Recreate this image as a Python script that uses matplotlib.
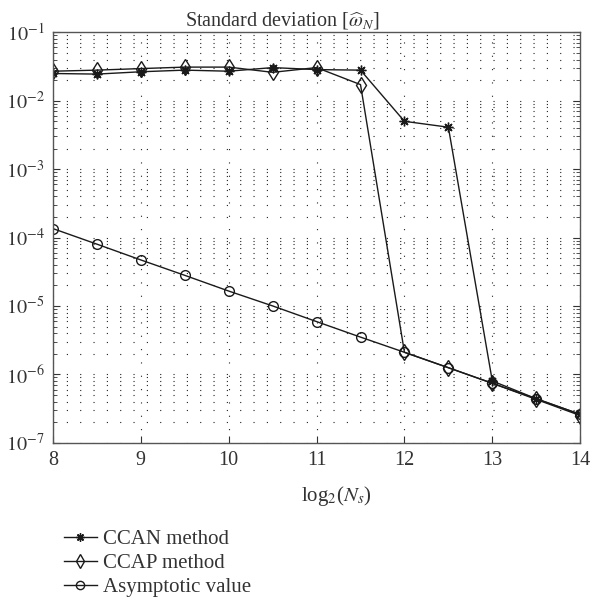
import numpy as np
import matplotlib
matplotlib.use("Agg")
import matplotlib.pyplot as plt

plt.rcParams['font.family'] = ['Liberation Serif', 'DejaVu Serif']
plt.rcParams['mathtext.fontset'] = 'stix'

# data
x_vals = [8, 8.5, 9, 9.5, 10, 10.5, 11, 11.5, 12, 12.5, 13, 13.5, 14]
ccan = [2.5e-2, 2.45e-2, 2.65e-2, 2.8e-2, 2.7e-2, 3.05e-2, 2.85e-2, 2.8e-2,
        5.0e-3, 4.1e-3, 8.0e-7, 4.4e-7, 2.6e-7]
ccap = [2.7e-2, 2.8e-2, 2.95e-2, 3.1e-2, 3.1e-2, 2.6e-2, 3.05e-2, 1.72e-2,
        2.1e-6, 1.25e-6, 7.4e-7, 4.3e-7, 2.5e-7]
asym = [1.35e-4, 8.0e-5, 4.7e-5, 2.8e-5, 1.65e-5, 1.0e-5, 5.9e-6, 3.5e-6,
        2.1e-6, 1.25e-6, 7.4e-7, 4.4e-7, 2.6e-7]
x_ticks = [8, 9, 10, 11, 12, 13, 14]
labels = ['CCAN method', 'CCAP method', 'Asymptotic value']

fig = plt.figure(figsize=(5.92, 6.04), dpi=100)
ax = fig.add_axes([0.0895, 0.267, 0.8905, 0.6795])

col = '#1a1a1a'
ax.semilogy(x_vals, ccan, color=col, lw=1.0, marker=(8, 2, 0), ms=7,
            mec=col, mew=1.0, label=labels[0])
ax.semilogy(x_vals, ccap, color=col, lw=1.0, marker='d', ms=8.5,
            mfc='none', mec=col, mew=1.0, label=labels[1])
ax.semilogy(x_vals, asym, color=col, lw=1.0, marker='o', ms=7,
            mfc='none', mec=col, mew=1.0, label=labels[2])

ax.set_xlim(8, 14)
ax.set_ylim(1e-7, 1e-1)
ax.set_xticks(x_ticks)
ax.set_xticklabels([str(t) for t in x_ticks])
ax.set_yticks([10.0**k for k in range(-7, 0)])
ax.set_yticklabels([r'$10^{%d}$' % k for k in range(-7, 0)])

dots = (0, (1, 11))
ax.grid(True, which='major', axis='both', color='#222222', lw=0.8, linestyle=dots)
ax.grid(True, which='minor', axis='y', color='#222222', lw=0.8, linestyle=dots)

ax.tick_params(which='both', direction='in', labelsize=14.5, colors='#333333',
               top=False, right=True)
ax.tick_params(which='major', length=5, pad=6)
ax.tick_params(which='minor', length=3)
for s in ax.spines.values():
    s.set_color('#555555')
    s.set_linewidth(1.0)

ax.set_title(r'Standard deviation [$\widehat{\omega}_N$]', fontsize=14.5,
             color='#333333', pad=4, x=0.435)
ax.set_xlabel(r'log$_2$($N_s$)', fontsize=15, color='#333333', labelpad=8)
ax.xaxis.set_label_coords(0.537, -0.1)

fig.legend(loc='upper left', bbox_to_anchor=(0.09, 0.14), frameon=False,
           fontsize=15, handlelength=1.6, handletextpad=0.3, labelspacing=0.2,
           borderpad=0, labelcolor='#333333', markerscale=0.85)

fig.savefig('out.png', dpi=100)
